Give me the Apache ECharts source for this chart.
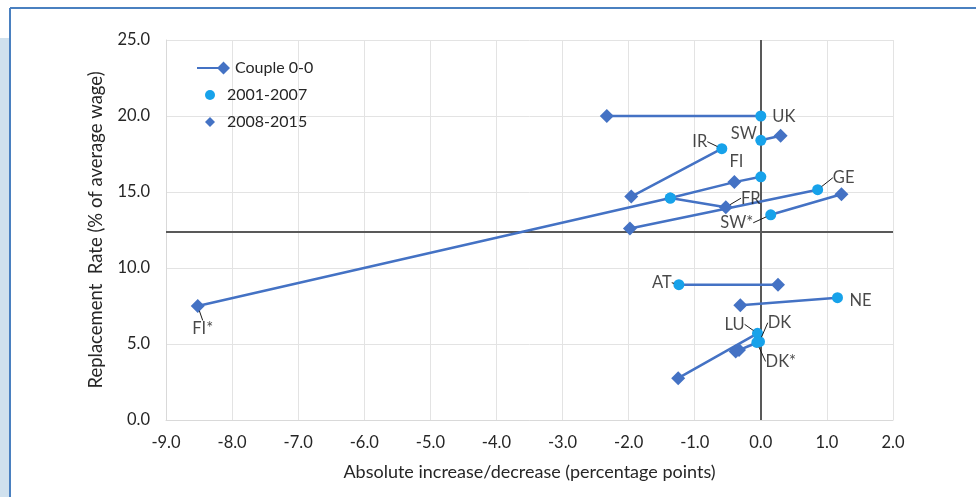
<!DOCTYPE html>
<html>
<head>
<meta charset="utf-8">
<script src="https://cdn.jsdelivr.net/npm/echarts@6/dist/echarts.min.js"></script>
<style>
  html, body { margin: 0; padding: 0; background: #fff; }
  #chart { width: 976px; height: 497px; }
</style>
</head>
<body>
<div id="chart"></div>
<script>
// countries, 2001-2007 point (circle) and 2008-2015 point (diamond)
const countries = ['UK', 'SW', 'IR', 'FI', 'FI*', 'FR', 'GE', 'SW*', 'AT', 'NE', 'LU', 'DK', 'DK*'];
const x0107 = [0.0, 0.0, -0.59, 0.0, -1.37, -1.37, 0.86, 0.15, -1.24, 1.16, -0.05, -0.02, -0.06];
const y0107 = [20.0, 18.4, 17.85, 16.0, 14.6, 14.6, 15.15, 13.5, 8.9, 8.05, 5.7, 5.15, 5.1];
const x0815 = [-2.33, 0.3, -1.96, -0.4, -8.52, -0.53, -1.98, 1.22, 0.26, -0.31, -1.25, -0.33, -0.38];
const y0815 = [20.0, 18.7, 14.7, 15.65, 7.5, 14.0, 12.6, 14.85, 8.9, 7.55, 2.75, 4.6, 4.5];
// FI's line runs on into FI*
const linkedToNext = ['FI'];
// reference cross lines
const refX = 0;
const refY = 12.4;
const xTicks = { min: -9, max: 2, step: 1 };
const yTicks = { min: 0, max: 25, step: 5 };

// which end each label sits on, its offset and whether it has a leader
const labelAt = { 'FI': 'd', 'FI*': 'd', 'FR': 'd' };
const labelOffset = {
  'UK': [23, 1], 'SW': [-17, -7], 'IR': [-22, -7], 'FI': [2, -20], 'FI*': [5, 23],
  'FR': [25, -9], 'GE': [26, -12], 'SW*': [-34, 8], 'AT': [-17, -2], 'NE': [23, 3],
  'LU': [-23, -9], 'DK': [20, -19], 'DK*': [24, 19]
};
const leaders = ['IR', 'FR', 'GE', 'SW*', 'AT', 'LU', 'DK', 'DK*', 'FI*'];

const FONT = 'Lato';
const lineData = [];
countries.forEach((c, i) => {
  lineData.push([x0107[i], y0107[i]]);
  lineData.push([x0815[i], y0815[i]]);
  if (linkedToNext.indexOf(c) < 0) lineData.push(['-', '-']);
});
const circleData = countries.map((c, i) => [x0107[i], y0107[i]]);
const diamondData = countries.map((c, i) => [x0815[i], y0815[i]]);
const labelData = countries.map((c, i) => ({
  name: c,
  value: labelAt[c] === 'd' ? [x0815[i], y0815[i]] : [x0107[i], y0107[i]],
  labelLine: { show: leaders.indexOf(c) >= 0 }
}));

const chart = echarts.init(document.getElementById('chart'));
const option = {
  animation: false,
  textStyle: { fontFamily: FONT },
  graphic: [
    { type: 'rect', shape: { x: 0, y: 38, width: 9, height: 459 }, style: { fill: '#d0e1ee' } },
    { type: 'line', shape: { x1: 10, y1: 8, x2: 10, y2: 497 }, style: { stroke: '#4a80c0', lineWidth: 2 } },
    { type: 'line', shape: { x1: 10, y1: 8, x2: 976, y2: 8 }, style: { stroke: '#4a80c0', lineWidth: 2 } }
  ],
  grid: { left: 166, right: 83, top: 40, bottom: 77 },
  legend: [
    {
      data: ['Couple 0-0'],
      left: 197, top: 60, padding: 0,
      itemWidth: 33, itemHeight: 13,
      icon: 'path://M0,5.5L22,5.5L22,7.5L0,7.5Z M20,6.5L26.5,0L33,6.5L26.5,13Z',
      textStyle: { fontFamily: FONT, fontSize: 16, color: '#262626' }
    },
    {
      data: [
        { name: '2001-2007', icon: 'circle' },
        { name: '2008-2015', icon: 'diamond' }
      ],
      orient: 'vertical',
      left: 205, top: 87, padding: 0,
      itemWidth: 10, itemHeight: 10, itemGap: 11,
      textStyle: { fontFamily: FONT, fontSize: 16, color: '#262626', padding: [0, 0, 0, 7] }
    }
  ],
  xAxis: {
    type: 'value',
    min: xTicks.min, max: xTicks.max, interval: xTicks.step,
    name: 'Absolute increase/decrease (percentage points)',
    nameLocation: 'middle', nameGap: 43,
    nameTextStyle: { fontFamily: FONT, fontSize: 18, color: '#262626' },
    axisLine: { show: true, onZero: false, lineStyle: { color: '#d9d9d9', width: 1 } },
    axisTick: { show: false },
    axisLabel: { margin: 14, fontFamily: FONT, fontSize: 16.5, color: '#262626', formatter: v => v.toFixed(1) },
    splitLine: { show: true, lineStyle: { color: '#e3e3e3', width: 1 } }
  },
  yAxis: {
    type: 'value',
    min: yTicks.min, max: yTicks.max, interval: yTicks.step,
    name: 'Replacement  Rate (% of average wage)',
    nameLocation: 'middle', nameGap: 60,
    nameTextStyle: { fontFamily: FONT, fontSize: 18.5, color: '#262626' },
    axisLine: { show: true, onZero: false, lineStyle: { color: '#d9d9d9', width: 1 } },
    axisTick: { show: false },
    axisLabel: { margin: 16, fontFamily: FONT, fontSize: 16.5, color: '#262626', formatter: v => v.toFixed(1) },
    splitLine: { show: true, lineStyle: { color: '#e3e3e3', width: 1 } }
  },
  series: [
    {
      name: 'Couple 0-0',
      type: 'line',
      data: lineData,
      connectNulls: false,
      symbol: 'none',
      showSymbol: false,
      color: '#4472c4',
      lineStyle: { color: '#4472c4', width: 2.5 },
      z: 3,
      markLine: {
        silent: true,
        symbol: 'none',
        label: { show: false },
        lineStyle: { color: '#595959', width: 2, type: 'solid' },
        data: [{ yAxis: refY }, { xAxis: refX }],
        z: 2
      }
    },
    {
      name: '2001-2007',
      type: 'scatter',
      data: circleData,
      symbol: 'circle',
      symbolSize: 11,
      itemStyle: { color: '#17a2ea', opacity: 1 },
      z: 4
    },
    {
      name: '2008-2015',
      type: 'scatter',
      data: diamondData,
      symbol: 'diamond',
      symbolSize: 14,
      itemStyle: { color: '#4472c4', opacity: 1 },
      z: 4
    },
    {
      name: 'labels',
      type: 'scatter',
      data: labelData,
      symbol: 'circle',
      symbolSize: 10,
      silent: true,
      itemStyle: { color: 'transparent' },
      label: {
        show: true,
        position: 'inside',
        formatter: p => p.name,
        fontFamily: FONT,
        fontSize: 16.5,
        color: '#1a1a1a'
      },
      labelLine: { show: true, lineStyle: { color: '#1a1a1a', width: 1 } },
      labelLayout: function (params) {
        const o = labelOffset[countries[params.dataIndex]];
        return { dx: o[0], dy: o[1] };
      },
      z: 5
    }
  ]
};
chart.setOption(option);
</script>
</body>
</html>
